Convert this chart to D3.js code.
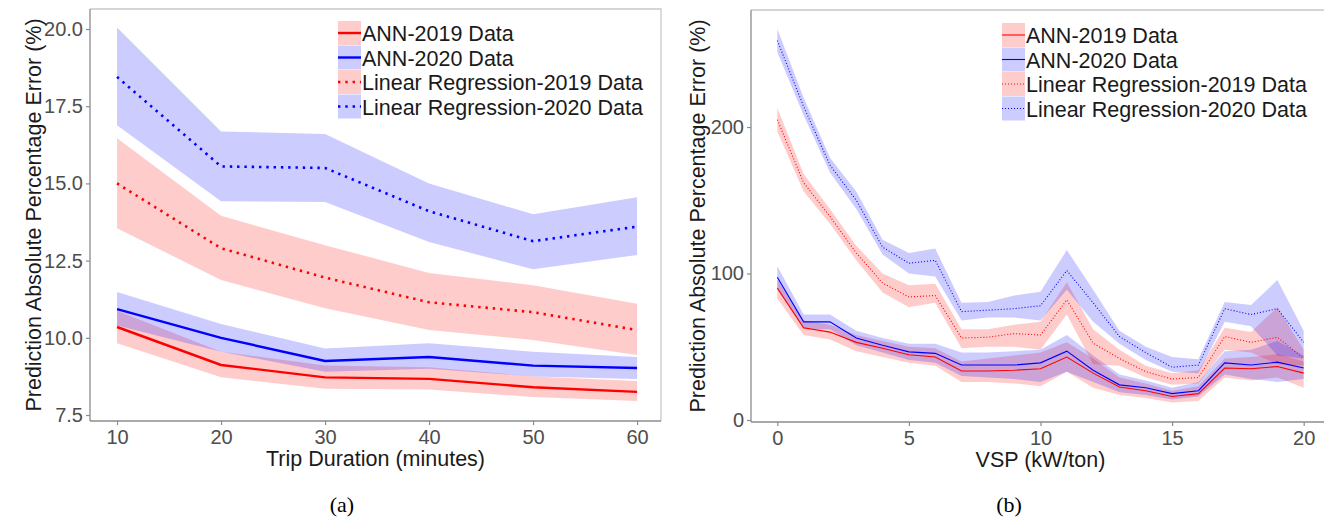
<!DOCTYPE html>
<html>
<head>
<meta charset="utf-8">
<script src="https://cdn.jsdelivr.net/npm/d3@7"></script>
<style>
  body { margin: 0; background: #fff; }
  svg { display: block; font-family: "Liberation Sans", Arial, sans-serif; }
  .tick text { fill: #4d4d4d; }
</style>
</head>
<body>
<svg id="chart" width="1324" height="519"></svg>
<script>
// ---- panel (a): error vs trip duration ----
var tripMinutes = [10, 20, 30, 40, 50, 60];
var annA19   = [10.35, 9.12, 8.72, 8.67, 8.40, 8.25];
var annA19Lo = [9.82, 8.72, 8.35, 8.33, 8.08, 7.95];
var annA19Hi = [10.88, 9.55, 9.10, 9.05, 8.75, 8.60];
var annA20   = [10.93, 10.00, 9.25, 9.38, 9.10, 9.02];
var annA20Lo = [10.40, 9.55, 8.90, 9.00, 8.75, 8.67];
var annA20Hi = [11.48, 10.45, 9.65, 9.82, 9.55, 9.38];
var lrA19    = [15.00, 12.90, 11.95, 11.15, 10.83, 10.25];
var lrA19Lo  = [13.55, 11.87, 10.96, 10.25, 9.93, 9.44];
var lrA19Hi  = [16.46, 13.95, 13.00, 12.10, 11.70, 11.10];
var lrA20    = [18.45, 15.55, 15.50, 14.10, 13.13, 13.60];
var lrA20Lo  = [16.88, 14.42, 14.40, 13.10, 12.22, 12.68];
var lrA20Hi  = [20.05, 16.68, 16.60, 15.00, 14.00, 14.55];
var ticksA_y = [7.5, 10.0, 12.5, 15.0, 17.5, 20.0];
var ticksA_x = [10, 20, 30, 40, 50, 60];

// ---- panel (b): error vs VSP ----
var vsp = [0, 1, 2, 3, 4, 5, 6, 7, 8, 9, 10, 11, 12, 13, 14, 15, 16, 17, 18, 19, 20];
var annB19   = [90, 63, 60, 53, 49, 44.5, 43, 33.5, 33.5, 34, 35, 43, 32, 22.5, 20, 16, 18, 35.5, 35, 36.5, 32];
var annB19Lo = [83, 58, 55, 47, 43, 39, 37, 26, 26, 25, 23, 33, 22, 17, 15, 12, 13, 29, 27, 29, 22];
var annB19Hi = [96, 68, 65, 58, 54, 50, 49, 40, 42, 44, 46, 53, 42, 29, 25, 20, 23, 42, 43, 45, 40];
var annB20   = [97.5, 67, 67, 56, 51, 46.5, 45.5, 37.5, 37.5, 37.5, 39, 47, 34, 24, 22, 18, 20, 39, 37.5, 39.5, 35.5];
var annB20Lo = [90, 62, 62, 51, 46, 41, 39, 30, 29, 28, 26, 33, 26, 19, 17, 14, 16, 31, 28, 26, 28];
var annB20Hi = [105, 72, 72, 61, 56, 52, 52, 46, 46, 47, 48, 58, 44, 31, 27, 22, 26, 47, 48, 54, 44];
var lrB19    = [205, 162, 139, 114, 93.5, 84, 85, 56, 56.5, 59, 58, 82, 52.5, 42, 33, 28, 29, 57, 53, 56.5, 42];
var lrB19Lo  = [197, 156, 134, 109, 87, 77, 80, 49, 50, 50, 48, 72, 38, 37, 29, 24, 25, 48, 46, 38, 37];
var lrB19Hi  = [213, 168, 144, 119, 100, 92, 93, 62, 62, 65, 67, 94, 62, 48, 37, 32, 34, 63, 60, 77, 48];
var lrB20    = [259, 214, 174, 150, 118, 107, 109, 74, 75, 76, 78, 102, 80, 57, 46, 36, 37.5, 76, 72, 76, 53];
var lrB20Lo  = [251, 208, 169, 144, 113, 100, 98, 68, 70, 70, 68, 89, 67, 52, 41, 33, 32, 67, 64, 44, 42];
var lrB20Hi  = [267, 220, 179, 156, 123, 114, 117, 80, 80.5, 85, 87.5, 116, 89, 61, 50, 43, 41.5, 80.5, 78.5, 95.5, 61];
var ticksB_y = [0, 100, 200];
var ticksB_x = [0, 5, 10, 15, 20];

var legendLabels = ["ANN-2019 Data", "ANN-2020 Data", "Linear Regression-2019 Data", "Linear Regression-2020 Data"];

var RED = "#ff0000", BLUE = "#0000ff";
var FILL_RED = "rgba(255,0,0,0.2)", FILL_BLUE = "rgba(0,0,255,0.2)";

var svg = d3.select("#chart");

function drawPanel(cfg) {
  var x = d3.scaleLinear().domain(cfg.xDomain).range([cfg.left, cfg.right]);
  var y = d3.scaleLinear().domain(cfg.yDomain).range([cfg.bottom, cfg.top]);
  var g = svg.append("g");

  // panel frame (top / right)
  g.append("path")
    .attr("d", "M" + cfg.left + "," + cfg.top + "H" + cfg.right + "V" + cfg.bottom)
    .attr("fill", "none").attr("stroke", "#c8c8c8").attr("stroke-width", 1.3);

  var series = [
    { vals: cfg.ann19, lo: cfg.ann19Lo, hi: cfg.ann19Hi, col: RED,  fill: FILL_RED,  dotted: false },
    { vals: cfg.ann20, lo: cfg.ann20Lo, hi: cfg.ann20Hi, col: BLUE, fill: FILL_BLUE, dotted: false },
    { vals: cfg.lr19,  lo: cfg.lr19Lo,  hi: cfg.lr19Hi,  col: RED,  fill: FILL_RED,  dotted: true },
    { vals: cfg.lr20,  lo: cfg.lr20Lo,  hi: cfg.lr20Hi,  col: BLUE, fill: FILL_BLUE, dotted: true }
  ];

  var area = d3.area()
    .x(function(d) { return x(d.x); })
    .y0(function(d) { return y(d.lo); })
    .y1(function(d) { return y(d.hi); });
  var line = d3.line()
    .x(function(d) { return x(d.x); })
    .y(function(d) { return y(d.v); });

  series.forEach(function(s) {
    var pts = cfg.xs.map(function(xv, i) { return { x: xv, lo: s.lo[i], hi: s.hi[i] }; });
    g.append("path").datum(pts).attr("d", area).attr("fill", s.fill);
  });
  series.forEach(function(s) {
    var pts = cfg.xs.map(function(xv, i) { return { x: xv, v: s.vals[i] }; });
    g.append("path").datum(pts).attr("d", line)
      .attr("fill", "none")
      .attr("stroke", s.col)
      .attr("stroke-width", s.dotted ? cfg.dotWidth : cfg.lineWidth)
      .attr("stroke-dasharray", s.dotted ? cfg.dash : null);
  });

  // axes
  var ax = g.append("g").attr("transform", "translate(0," + cfg.bottom + ")")
    .call(d3.axisBottom(x).tickValues(cfg.xTicks).tickSizeOuter(0).tickSize(4).tickPadding(5).tickFormat(cfg.xFmt));
  var ay = g.append("g").attr("transform", "translate(" + cfg.left + ",0)")
    .call(d3.axisLeft(y).tickValues(cfg.yTicks).tickSizeOuter(0).tickSize(4).tickPadding(3).tickFormat(cfg.yFmt));
  [ax, ay].forEach(function(a) {
    a.select(".domain").attr("stroke", "#8c8c8c").attr("stroke-width", 1.3);
    a.selectAll(".tick line").attr("stroke", "#8c8c8c").attr("stroke-width", 1.2);
    a.selectAll(".tick text").style("font-size", "20px").attr("fill", "#4d4d4d");
  });
  ax.select(".domain").attr("d", "M" + cfg.left + ",0H" + cfg.right);
  ay.select(".domain").attr("d", "M0," + cfg.bottom + "V" + cfg.top);

  // axis titles
  g.append("text")
    .attr("x", (cfg.left + cfg.right) / 2).attr("y", cfg.bottom + 45)
    .attr("text-anchor", "middle").style("font-size", "21.5px").attr("fill", "#1a1a1a")
    .text(cfg.xTitle);
  g.append("text")
    .attr("transform", "translate(" + cfg.yTitleX + "," + (cfg.top + cfg.bottom) / 2 + ") rotate(-90)")
    .attr("text-anchor", "middle").style("font-size", "21.5px").attr("fill", "#1a1a1a")
    .text("Prediction Absolute Percentage Error (%)");

  // legend
  var lg = g.append("g").attr("transform", "translate(" + cfg.legX + "," + cfg.legY + ")");
  series.forEach(function(s, i) {
    var row = lg.append("g").attr("transform", "translate(0," + (i * 24.5) + ")");
    row.append("rect").attr("x", 0).attr("y", -12).attr("width", 23).attr("height", 24).attr("fill", s.fill);
    row.append("line").attr("x1", 0).attr("x2", 23).attr("y1", 0).attr("y2", 0)
      .attr("stroke", s.col)
      .attr("stroke-width", s.dotted ? cfg.dotWidth : cfg.lineWidth)
      .attr("stroke-dasharray", s.dotted ? cfg.dash : null);
    row.append("text").attr("x", 24).attr("y", 8).style("font-size", "21.5px").attr("fill", "#1a1a1a")
      .text(legendLabels[i]);
  });

  // caption
  svg.append("text")
    .attr("x", cfg.capX).attr("y", 512)
    .attr("text-anchor", "middle")
    .style("font-family", "'Liberation Serif', 'Times New Roman', serif")
    .style("font-size", "22px").attr("fill", "#000")
    .text(cfg.caption);
}

drawPanel({
  xs: tripMinutes,
  ann19: annA19, ann19Lo: annA19Lo, ann19Hi: annA19Hi,
  ann20: annA20, ann20Lo: annA20Lo, ann20Hi: annA20Hi,
  lr19: lrA19, lr19Lo: lrA19Lo, lr19Hi: lrA19Hi,
  lr20: lrA20, lr20Lo: lrA20Lo, lr20Hi: lrA20Hi,
  xDomain: [7.4, 62.3], yDomain: [7.306, 20.648],
  left: 90, right: 661, top: 9, bottom: 421,
  xTicks: ticksA_x, yTicks: ticksA_y,
  xFmt: d3.format("d"), yFmt: d3.format(".1f"),
  lineWidth: 2.4, dotWidth: 2.6, dash: "2.4,4.9",
  xTitle: "Trip Duration (minutes)", yTitleX: 41,
  legX: 338, legY: 33,
  capX: 342, caption: "(a)"
});

drawPanel({
  xs: vsp,
  ann19: annB19, ann19Lo: annB19Lo, ann19Hi: annB19Hi,
  ann20: annB20, ann20Lo: annB20Lo, ann20Hi: annB20Hi,
  lr19: lrB19, lr19Lo: lrB19Lo, lr19Hi: lrB19Hi,
  lr20: lrB20, lr20Lo: lrB20Lo, lr20Hi: lrB20Hi,
  xDomain: [-1, 21], yDomain: [-1.365, 279.9],
  left: 751, right: 1330, top: 10, bottom: 422,
  xTicks: ticksB_x, yTicks: ticksB_y,
  xFmt: d3.format("d"), yFmt: d3.format("d"),
  lineWidth: 1.1, dotWidth: 1.1, dash: "1,2",
  xTitle: "VSP (kW/ton)", yTitleX: 705,
  legX: 1002, legY: 35,
  capX: 1009, caption: "(b)"
});
</script>
</body>
</html>
